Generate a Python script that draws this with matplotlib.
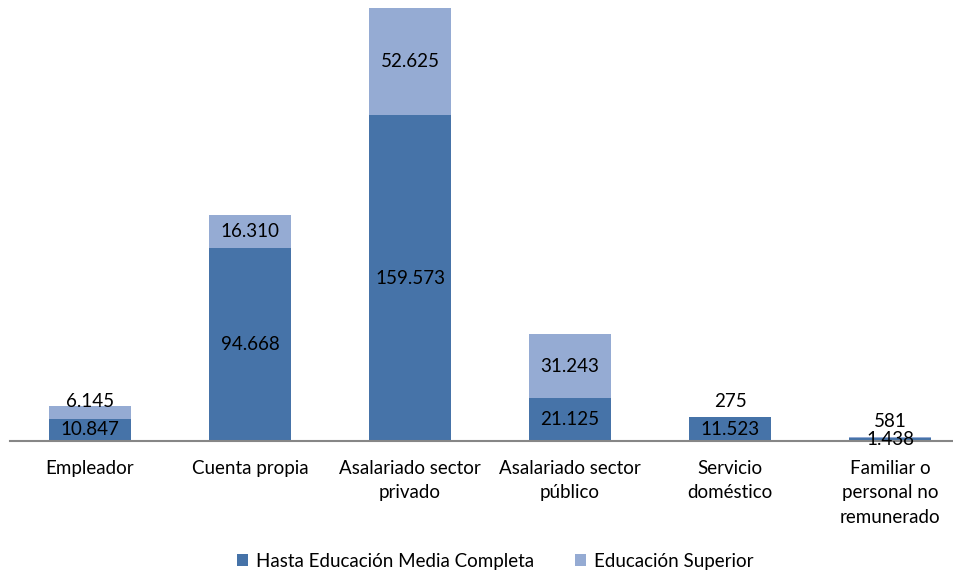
import matplotlib.pyplot as plt
import numpy as np

# categories and values
categorias = ['Empleador', 'Cuenta propia', 'Asalariado sector\nprivado',
              'Asalariado sector\npúblico', 'Servicio\ndoméstico',
              'Familiar o\npersonal no\nremunerado']
hasta_media = [10847, 94668, 159573, 21125, 11523, 1438]
superior = [6145, 16310, 52625, 31243, 275, 581]
series_names = ['Hasta Educación Media Completa', 'Educación Superior']

c_dark = '#4673A8'
c_light = '#95ABD3'
fs = 13.5

plt.rcParams['font.family'] = ['Lato', 'DejaVu Sans']

fig = plt.figure(figsize=(9.54, 5.73), dpi=100)
ax = fig.add_axes([10/954, 132/573, 944/954, 433/573])

x = np.arange(len(categorias))
w = 0.51
b1 = ax.bar(x, hasta_media, w, color=c_dark, label=series_names[0])
b2 = ax.bar(x, superior, w, bottom=hasta_media, color=c_light, label=series_names[1])

ax.set_xlim(-0.5, -0.5 + 944/160)
ax.set_ylim(0, max(np.array(hasta_media) + np.array(superior)))

def fmt(v):
    return f'{v:,}'.replace(',', '.')

ymax = ax.get_ylim()[1]
for i in range(len(x)):
    ax.text(x[i], hasta_media[i] / 2, fmt(hasta_media[i]), ha='center', va='center', fontsize=fs)
    seg_px = superior[i] / ymax * 433
    if seg_px < 20:
        # small segment: label sits just above the stack
        off = 5 if seg_px < 5 else -3
        ax.annotate(fmt(superior[i]), (x[i], hasta_media[i] + superior[i]),
                    xytext=(0, off), textcoords='offset points',
                    ha='center', va='bottom', fontsize=fs)
    else:
        ax.text(x[i], hasta_media[i] + superior[i] / 2, fmt(superior[i]), ha='center', va='center', fontsize=fs)

for s in ['top', 'right', 'left']:
    ax.spines[s].set_visible(False)
ax.spines['bottom'].set_color('#868686')
ax.spines['bottom'].set_linewidth(1.5)
ax.set_yticks([])
ax.set_xticks(x)
ax.set_xticklabels(categorias, fontsize=fs, linespacing=1.55, va='top')
ax.tick_params(axis='x', length=0, pad=13.5)

fig.legend(handles=[b1, b2], loc='center', bbox_to_anchor=(495/954, 1 - 561/573),
           ncol=2, frameon=False, fontsize=fs, handlelength=0.6, handleheight=0.6,
           columnspacing=2.2, handletextpad=0.4)

fig.savefig('out.png', dpi=100)
